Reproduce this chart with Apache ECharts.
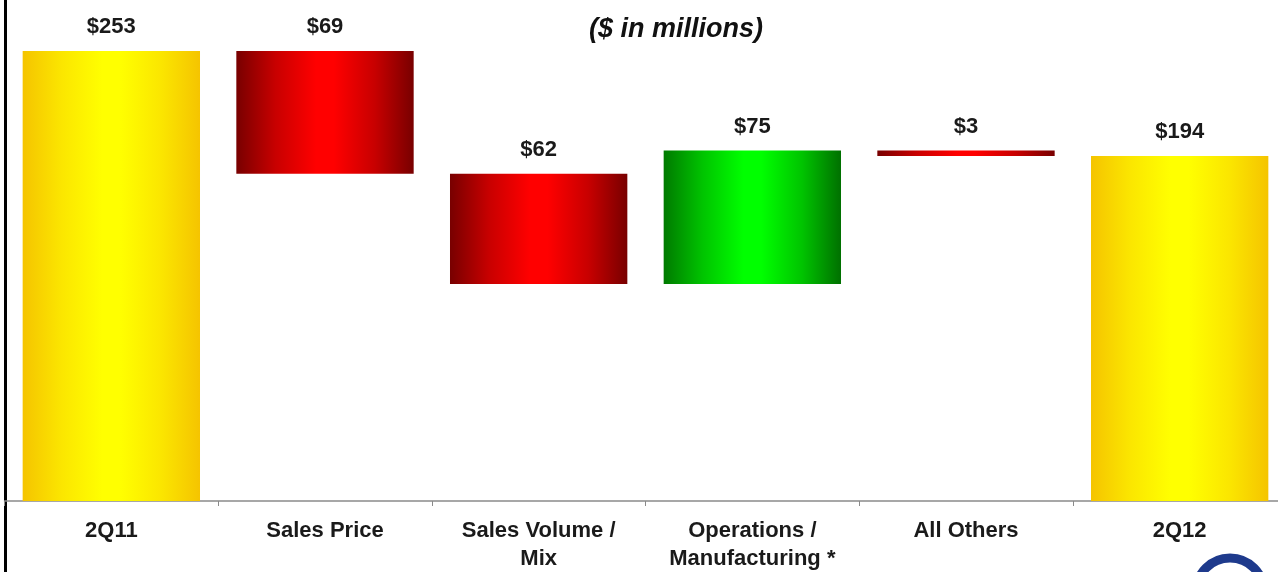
<!DOCTYPE html>
<html>
<head>
<meta charset="utf-8">
<script src="https://cdn.jsdelivr.net/npm/echarts@6/dist/echarts.min.js"></script>
<style>
html,body{margin:0;padding:0;background:#fff;}
#chart{width:1278px;height:572px;}
</style>
</head>
<body>
<div id="chart"></div>
<script>
var categories = ['2Q11', 'Sales Price', 'Sales Volume /\nMix', 'Operations /\nManufacturing *', 'All Others', '2Q12'];
var changes = [253, -69, -62, 75, -3, 194];
var kinds = ['total', 'delta', 'delta', 'delta', 'delta', 'total'];

function grad(edgeL, half, mid, edgeR) {
  return new echarts.graphic.LinearGradient(0, 0, 1, 0, [
    {offset: 0, color: edgeL},
    {offset: 0.22, color: half},
    {offset: 0.45, color: mid},
    {offset: 0.55, color: mid},
    {offset: 0.78, color: half},
    {offset: 1, color: edgeR}
  ]);
}
var yellow = grad('#f5c400', '#fbe600', '#ffff00', '#f5c400');
var red = grad('#780000', '#c80000', '#ff0000', '#780000');
var green = grad('#007a00', '#00c400', '#00ff00', '#007000');

var base = [], vals = [], running = 0;
for (var i = 0; i < changes.length; i++) {
  var v = changes[i];
  var color;
  if (kinds[i] === 'total') {
    base.push(0);
    vals.push({value: v, itemStyle: {color: yellow}});
    running = v;
  } else {
    var lo = v < 0 ? running + v : running;
    base.push(lo);
    color = v < 0 ? red : green;
    vals.push({value: Math.abs(v), itemStyle: {color: color}});
    running += v;
  }
}

var chart = echarts.init(document.getElementById('chart'));
chart.setOption({
  animation: false,
  backgroundColor: '#fff',
  title: {
    text: '($ in millions)',
    left: 671, top: 11, textAlign: 'center',
    textStyle: {fontFamily: 'Liberation Sans, Arial', fontSize: 27, fontWeight: 'bold', fontStyle: 'italic', color: '#111'}
  },
  grid: {left: 4.5, width: 1282, top: 3, bottom: 71, outerBoundsMode: 'none', containLabel: false},
  xAxis: {
    type: 'category',
    data: categories,
    axisLine: {lineStyle: {color: '#8a8a8a', width: 1.5}},
    axisTick: {show: true, length: 5, lineStyle: {color: '#8a8a8a'}},
    axisLabel: {
      margin: 16, interval: 0,
      fontFamily: 'Liberation Sans, Arial', fontSize: 22, fontWeight: 'bold', color: '#1a1a1a', lineHeight: 28
    }
  },
  yAxis: {type: 'value', min: 0, max: 280, show: false, splitLine: {show: false}},
  series: [
    {type: 'bar', stack: 'w', data: base, itemStyle: {color: 'transparent'}, barWidth: '83%', silent: true},
    {
      type: 'bar', stack: 'w', data: vals, barWidth: '83%',
      label: {
        show: true, position: 'top', distance: 13,
        formatter: function (p) { return '$' + p.value; },
        fontFamily: 'Liberation Sans, Arial', fontSize: 22, fontWeight: 'bold', color: '#1a1a1a'
      }
    }
  ],
  graphic: [
    {type: 'rect', shape: {x: 4, y: 0, width: 3, height: 572}, style: {fill: '#000'}},
    {type: 'arc', shape: {cx: 1230, cy: 592, r: 34, startAngle: Math.PI, endAngle: 2 * Math.PI}, style: {stroke: '#1e3a8c', lineWidth: 9, fill: null}}
  ]
});
</script>
</body>
</html>
